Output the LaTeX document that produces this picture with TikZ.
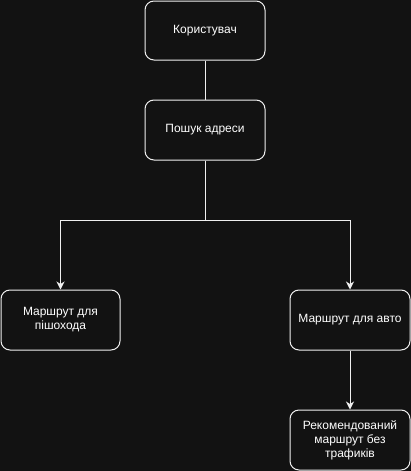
\documentclass[tikz,border=0pt]{standalone}
\usepackage{fontspec}
\setmainfont{Liberation Sans}
\usetikzlibrary{arrows.meta}
\definecolor{bg}{HTML}{121212}
\definecolor{fg}{HTML}{F0F0F0}
\begin{document}
\begin{tikzpicture}[x=1pt,y=-1pt,
  box/.style={draw=fg, fill=bg, text=white, rounded corners=9pt, line width=1pt,
    minimum width=120pt, minimum height=60pt, inner sep=2pt, align=center,
    font=\fontsize{12pt}{14pt}\selectfont},
  conn/.style={draw=fg, line width=1pt},
  arr/.style={conn, -{Stealth[length=8pt,width=8pt,inset=2.5pt]}}]
\fill[bg] (0,0) rectangle (411,471);
\useasboundingbox (0,0) rectangle (411,471);
\node[box, minimum height=59pt] (user) at (205,30.5) {Користувач};
\node[box] (search) at (205,130) {Пошук адреси};
\node[box, minimum width=119pt] (ped) at (60.5,320) {Маршрут для\\пішохода};
\node[box] (auto) at (350,320) {Маршрут для авто};
\node[box] (rec) at (350,440) {Рекомендований\\маршрут без\\трафиків};
\coordinate (split) at (205,220);
\draw[conn] (user) -- (search);
\draw[arr] (search.south) -- (split) -| (ped.north);
\draw[arr] (search.south) -- (split) -| (auto.north);
\draw[arr] (auto) -- (rec);
\end{tikzpicture}
\end{document}
